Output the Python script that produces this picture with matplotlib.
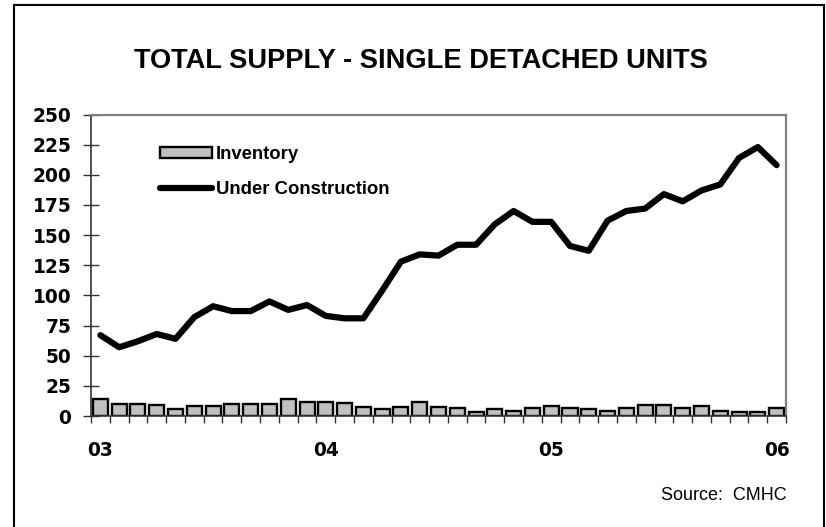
import numpy as np
import matplotlib.pyplot as plt
from matplotlib.patches import Rectangle
from matplotlib.ticker import FixedLocator

plt.rcParams['font.family'] = ['Liberation Sans', 'DejaVu Sans']

# Data (monthly, Jan 2003 - Jan 2006)
inventory = [14, 10, 10, 9, 5.5, 8.5, 8.5, 10, 10, 10, 14.5, 11.5, 11.5, 11, 7.5, 6, 7.5, 11.5,
             7.5, 6.5, 3, 5.5, 4.5, 7, 8, 7, 5.5, 4.5, 6.5, 9.5, 9, 6.5, 8, 4.5, 3, 3.5, 7]
under_construction = [67, 57, 62, 68, 64, 82, 91, 87, 87, 95, 88, 92, 83, 81, 81, 104, 128, 134, 133,
                      142, 142, 159, 170, 161, 161, 141, 137, 162, 170, 172, 184, 178, 187, 192,
                      214, 223, 208]
year_labels = ["03", "04", "05", "06"]

n = len(inventory)
x = np.arange(n)

fig = plt.figure(figsize=(8.26, 5.27), dpi=100)
ax = fig.add_axes([91 / 826, 1 - 416 / 527, 695 / 826, 301.5 / 527])

bars = ax.bar(x, inventory, width=0.8, color="#c0c0c0", edgecolor="black", linewidth=1.7,
              label="Inventory", zorder=2)
line, = ax.plot(x, under_construction, color="black", linewidth=4.5, label="Under Construction",
                solid_capstyle="round", zorder=3)

ax.set_xlim(-0.5, n - 0.5)
ax.set_ylim(0, 250)
ax.set_yticks(np.arange(0, 251, 25))
ax.set_xticks(x[::12])
ax.set_xticklabels(year_labels)
ax.xaxis.set_minor_locator(FixedLocator(np.arange(-0.5, n, 1)))

ax.tick_params(axis="x", which="major", length=0, pad=18)
ax.tick_params(axis="x", which="minor", length=5, width=1, direction="out", color="#333333")
ax.tick_params(axis="y", which="major", length=11.5, width=1, direction="inout", pad=8.5,
               color="#333333")
for lbl in ax.get_xticklabels() + ax.get_yticklabels():
    lbl.set_fontweight("bold")
    lbl.set_fontfamily("DejaVu Sans")
    lbl.set_fontsize(13.4)

ax.spines["left"].set_color("#333333")
ax.spines["left"].set_linewidth(1.2)
ax.spines["bottom"].set_color("#333333")
ax.spines["bottom"].set_linewidth(1.2)
ax.spines["top"].set_color("#808080")
ax.spines["top"].set_linewidth(1.6)
ax.spines["right"].set_color("#808080")
ax.spines["right"].set_linewidth(1.6)

ax.legend([bars, line], ["Inventory", "Under Construction"], loc="upper left",
          bbox_to_anchor=(0.099, 0.895), frameon=False,
          prop={"weight": "bold", "size": 13.3}, handlelength=2.85, handleheight=0.55,
          handletextpad=0.2, labelspacing=0.95, borderpad=0, borderaxespad=0)

fig.text(421 / 826, 1 - 61 / 527, "TOTAL SUPPLY - SINGLE DETACHED UNITS", ha="center",
         va="center", fontsize=19.6, fontweight="bold")
fig.text(787 / 826, 1 - 496 / 527, "Source:  CMHC", ha="right", va="center", fontsize=13)

fig.patches.append(Rectangle((14 / 826, -0.05), 810 / 826, 1.05 - 5 / 527, transform=fig.transFigure,
                             fill=False, edgecolor="black", linewidth=1.5))

fig.savefig("out.png", dpi=100)
